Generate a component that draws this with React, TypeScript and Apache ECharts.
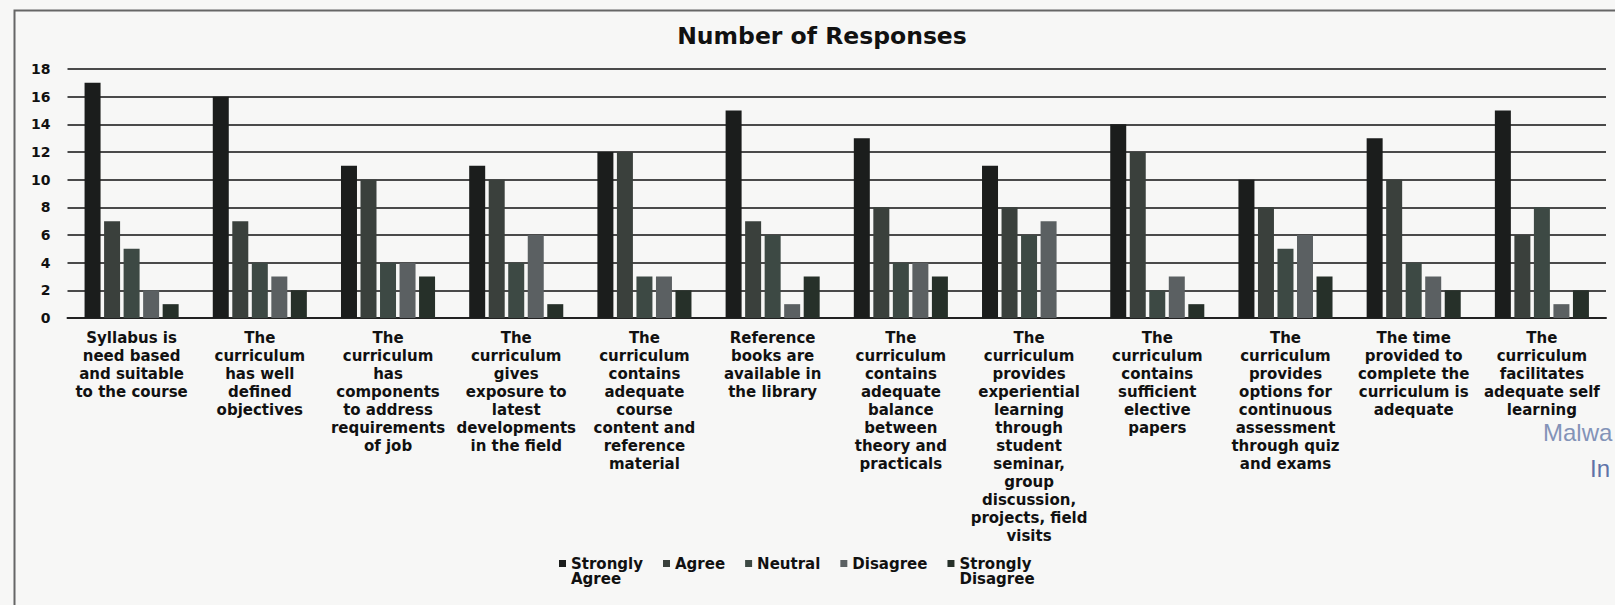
import React, { useEffect, useRef } from "react";
import * as echarts from "echarts";

const categories = [
  "Syllabus is\nneed based\nand suitable\nto the course",
  "The\ncurriculum\nhas well\ndefined\nobjectives",
  "The\ncurriculum\nhas\ncomponents\nto address\nrequirements\nof job",
  "The\ncurriculum\ngives\nexposure to\nlatest\ndevelopments\nin the field",
  "The\ncurriculum\ncontains\nadequate\ncourse\ncontent and\nreference\nmaterial",
  "Reference\nbooks are\navailable in\nthe library",
  "The\ncurriculum\ncontains\nadequate\nbalance\nbetween\ntheory and\npracticals",
  "The\ncurriculum\nprovides\nexperiential\nlearning\nthrough\nstudent\nseminar,\ngroup\ndiscussion,\nprojects, field\nvisits",
  "The\ncurriculum\ncontains\nsufficient\nelective\npapers",
  "The\ncurriculum\nprovides\noptions for\ncontinuous\nassessment\nthrough quiz\nand exams",
  "The time\nprovided to\ncomplete the\ncurriculum is\nadequate",
  "The\ncurriculum\nfacilitates\nadequate self\nlearning",
];

const seriesNames = ["Strongly Agree", "Agree", "Neutral", "Disagree", "Strongly Disagree"];
const stronglyAgree = [17, 16, 11, 11, 12, 15, 13, 11, 14, 10, 13, 15];
const agree = [7, 7, 10, 10, 12, 7, 8, 8, 12, 8, 10, 6];
const neutral = [5, 4, 4, 4, 3, 6, 4, 6, 2, 5, 4, 8];
const disagree = [2, 3, 4, 6, 3, 1, 4, 7, 3, 6, 3, 1];
const stronglyDisagree = [1, 2, 3, 1, 2, 3, 3, 0, 1, 3, 2, 2];
const seriesValues = [stronglyAgree, agree, neutral, disagree, stronglyDisagree];
const seriesColors = ["#1b1d1c", "#3a403c", "#3d4944", "#5b6062", "#263029"];
// blank first line keeps the icon level with the first text line
const legendLabels = [" \nStrongly\nAgree", "Agree", "Neutral", "Disagree", " \nStrongly\nDisagree"];

const yMin = 0;
const yMax = 18;
const yInterval = 2;

const FONT = "DejaVu Sans";

export default function App() {
  const ref = useRef<HTMLDivElement>(null);
  useEffect(() => {
    if (!ref.current) return;
    const chart = echarts.init(ref.current, null, { renderer: "svg" });
    chart.setOption({
      animation: false,
      backgroundColor: "#f7f7f6",
      title: {
        text: "Number of Responses",
        left: 817,
        textAlign: "center",
        top: 19,
        textStyle: { fontFamily: FONT, fontSize: 23.5, fontWeight: "bold", color: "#111" },
      },
      legend: {
        left: 554,
        top: 536,
        itemWidth: 7,
        itemHeight: 7,
        itemGap: 20,
        icon: "rect",
        data: seriesNames,
        formatter: (name: string) => legendLabels[seriesNames.indexOf(name)],
        textStyle: { fontFamily: FONT, fontSize: 15, fontWeight: "bold", color: "#111", lineHeight: 15 },
      },
      grid: { left: 67.5, right: 9, top: 69, bottom: 287, containLabel: false },
      xAxis: {
        type: "category",
        data: categories,
        axisTick: { show: false },
        axisLine: { lineStyle: { color: "#222", width: 2 } },
        axisLabel: {
          interval: 0,
          margin: 11,
          fontFamily: FONT,
          fontSize: 15,
          fontWeight: "bold",
          color: "#111",
          lineHeight: 18,
          align: "center",
        },
      },
      yAxis: {
        type: "value",
        min: yMin,
        max: yMax,
        interval: yInterval,
        axisLine: { show: false },
        axisTick: { show: false },
        splitLine: { lineStyle: { color: "#4a4a4a", width: 1.8 } },
        axisLabel: { margin: 17, fontFamily: FONT, fontSize: 14, fontWeight: "bold", color: "#111" },
      },
      series: seriesNames.map((n, i) => ({
        name: n,
        type: "bar",
        data: seriesValues[i],
        barWidth: 16,
        barGap: "22%",
        itemStyle: { color: seriesColors[i] },
      })),
      graphic: [
        {
          type: "rect",
          left: 12,
          top: 8,
          shape: { width: 1700, height: 700 },
          style: { fill: "none", stroke: "#666", lineWidth: 2 },
          z: 100,
        },
        {
          type: "text",
          left: 1543,
          top: 420,
          style: { text: "Malwa", font: "24px 'Liberation Sans'", fill: "#8393b8" },
        },
        {
          type: "text",
          left: 1590,
          top: 456,
          style: { text: "In", font: "24px 'Liberation Sans'", fill: "#5f73a8" },
        },
      ],
    });
    return () => chart.dispose();
  }, []);
  return (
    <div
      ref={ref}
      style={{ position: "fixed", left: 0, top: 0, width: 1615, height: 605 }}
    />
  );
}
